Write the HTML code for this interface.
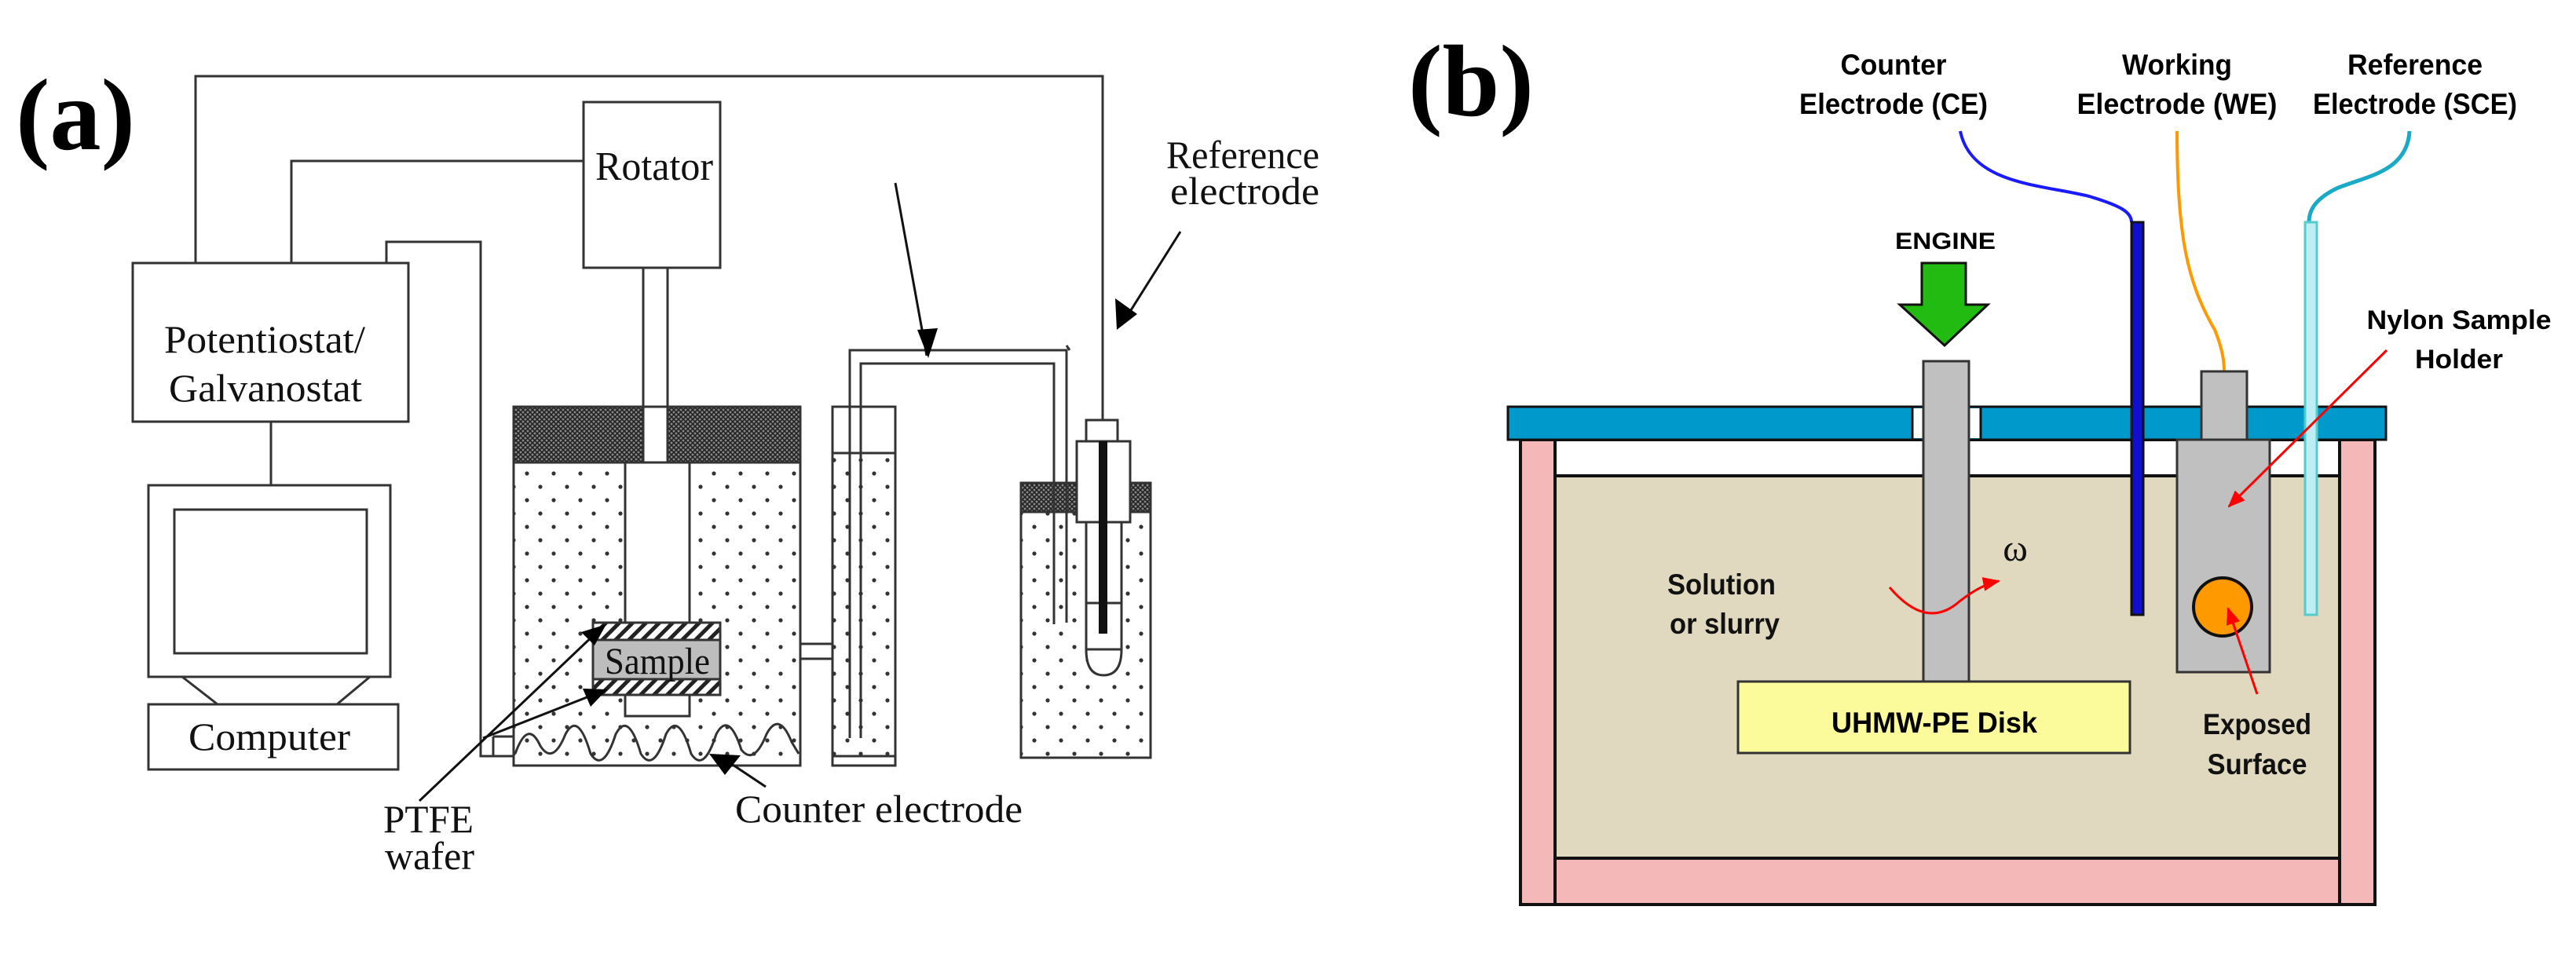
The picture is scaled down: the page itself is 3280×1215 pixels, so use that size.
<!DOCTYPE html>
<html><head><meta charset="utf-8"><style>html,body{margin:0;padding:0;background:#fff}svg{display:block}</style></head>
<body>
<svg width="3280" height="1215" viewBox="0 0 3280 1215" xmlns="http://www.w3.org/2000/svg">
<defs>
<pattern id="dots" width="34" height="34" patternUnits="userSpaceOnUse">
<circle cx="8" cy="8" r="2.6" fill="#333"/><circle cx="25" cy="25" r="2.6" fill="#333"/></pattern>
<pattern id="xh" width="6" height="6" patternUnits="userSpaceOnUse">
<rect width="6" height="6" fill="#888"/><path d="M0 0L6 6M6 0L0 6" stroke="#222" stroke-width="1.6"/></pattern>
<pattern id="diag" width="12" height="12" patternUnits="userSpaceOnUse" patternTransform="rotate(45)">
<rect width="12" height="12" fill="#fff"/><rect width="5" height="12" fill="#222"/></pattern>
<marker id="rh" markerWidth="22" markerHeight="18" refX="20" refY="9" orient="auto" markerUnits="userSpaceOnUse"><path d="M0 0L22 9L0 18z" fill="#f00"/></marker>
</defs>

<!-- ============ PANEL A ============ -->
<g font-family="Liberation Serif, serif" fill="none" stroke="#333" stroke-width="3">
<text x="20" y="190" font-size="130" font-weight="bold" fill="#000" stroke="none" textLength="152" lengthAdjust="spacingAndGlyphs">(a)</text>
<polyline points="249,335 249,97 1404,97 1404,535"/>
<polyline points="371,335 371,205 743,205"/>
<polyline points="492,335 492,308 612,308 612,963 654,963"/>
<polyline points="628,938 654,938"/>
<polyline points="628,938 628,963"/>
<line x1="345" y1="537" x2="345" y2="618"/>
<rect x="169" y="335" width="351" height="202" fill="#fff"/>
<text x="209" y="449" font-size="50" fill="#111" stroke="none" textLength="256" lengthAdjust="spacingAndGlyphs">Potentiostat/</text>
<text x="215" y="511" font-size="50" fill="#111" stroke="none" textLength="246" lengthAdjust="spacingAndGlyphs">Galvanostat</text>
<rect x="743" y="130" width="174" height="211" fill="#fff"/>
<text x="758" y="229" font-size="52" fill="#111" stroke="none" textLength="150" lengthAdjust="spacingAndGlyphs">Rotator</text>
<rect x="189" y="618" width="308" height="244" fill="#fff"/>
<rect x="222" y="649" width="245" height="183" fill="#fff"/>
<polyline points="232,862 277,897"/><polyline points="471,862 429,897"/>
<rect x="189" y="897" width="318" height="83" fill="#fff"/>
<text x="240" y="955" font-size="50" fill="#111" stroke="none" textLength="206" lengthAdjust="spacingAndGlyphs">Computer</text>
<rect x="819" y="341" width="31" height="248" fill="#fff"/>
<rect x="654" y="518" width="365" height="457" fill="url(#dots)"/>
<rect x="654" y="518" width="365" height="71" fill="url(#xh)"/>
<rect x="819" y="518" width="31" height="71" fill="#fff"/>
<line x1="819" y1="518" x2="819" y2="589"/><line x1="850" y1="518" x2="850" y2="589"/>
<line x1="654" y1="589" x2="1019" y2="589"/>
<rect x="796" y="589" width="82" height="204" fill="#fff"/>
<rect x="796" y="885" width="82" height="27" fill="#fff"/>
<rect x="755" y="793" width="162" height="22" fill="url(#diag)"/>
<rect x="755" y="815" width="162" height="50" fill="#bdbdbd"/>
<rect x="755" y="865" width="162" height="20" fill="url(#diag)"/>
<text x="770" y="858" font-size="48" fill="#111" stroke="none" textLength="134" lengthAdjust="spacingAndGlyphs">Sample</text>
<path d="M656,960 Q672,915 688,950 Q704,975 720,935 Q736,905 752,960 Q768,985 784,935 Q800,905 816,960 Q832,985 848,935 Q864,905 880,960 Q896,985 912,935 Q928,905 944,955 Q960,975 976,935 Q992,905 1008,945 L1017,960" stroke-width="3"/>
<rect x="654" y="518" width="365" height="457"/>
<rect x="1019" y="820" width="41" height="19" fill="#fff"/>
<rect x="1060" y="518" width="80" height="457" fill="url(#dots)"/>
<rect x="1060" y="518" width="80" height="59" fill="#fff"/>
<rect x="1060" y="518" width="80" height="457"/>
<line x1="1060" y1="577" x2="1140" y2="577"/>
<line x1="1060" y1="963" x2="1140" y2="963"/>
<polyline points="1082,940 1082,446 1358,446 1358,793"/>
<polyline points="1096,940 1096,463 1342,463 1342,795"/>
<line x1="1358" y1="440" x2="1362" y2="446"/>
<rect x="1300" y="615" width="165" height="350" fill="url(#dots)"/>
<rect x="1300" y="615" width="165" height="37" fill="url(#xh)"/>
<rect x="1300" y="615" width="165" height="350"/>
<line x1="1342" y1="615" x2="1342" y2="795"/>
<line x1="1358" y1="615" x2="1358" y2="793"/>
<rect x="1383" y="535" width="40" height="27" fill="#fff"/>
<rect x="1371" y="562" width="68" height="103" fill="#fff"/>
<path d="M1383,665 L1383,827 Q1383,860 1405,860 Q1428,860 1428,827 L1428,665 Z" fill="#fff"/>
<line x1="1383" y1="768" x2="1428" y2="768"/>
<line x1="1383" y1="827" x2="1428" y2="827"/>
<rect x="1399" y="562" width="11" height="245" fill="#111" stroke="none"/>
<line x1="1140" y1="233" x2="1180" y2="453" stroke="#111" stroke-width="3"/>
<path d="M1168,420 L1194,418 L1182,456 Z" fill="#000" stroke="none"/>
<line x1="1503" y1="295" x2="1440" y2="395" stroke="#111" stroke-width="3"/>
<path d="M1420,380 L1448,400 L1422,420 Z" fill="#000" stroke="none"/>
<line x1="534" y1="1020" x2="760" y2="805" stroke="#111" stroke-width="3"/>
<path d="M772,795 L740,805 L757,822 Z" fill="#000" stroke="none"/>
<line x1="615" y1="940" x2="760" y2="883" stroke="#111" stroke-width="3"/>
<path d="M773,878 L742,877 L752,900 Z" fill="#000" stroke="none"/>
<line x1="975" y1="1002" x2="930" y2="972" stroke="#111" stroke-width="3"/>
<path d="M903,960 L943,962 L923,987 Z" fill="#000" stroke="none"/>
<g fill="#111" stroke="none" font-size="50">
<text x="1485" y="214" textLength="195" lengthAdjust="spacingAndGlyphs">Reference</text>
<text x="1490" y="260" textLength="190" lengthAdjust="spacingAndGlyphs">electrode</text>
<text x="488" y="1060" textLength="115" lengthAdjust="spacingAndGlyphs">PTFE</text>
<text x="490" y="1107" textLength="114" lengthAdjust="spacingAndGlyphs">wafer</text>
<text x="936" y="1047" textLength="366" lengthAdjust="spacingAndGlyphs">Counter electrode</text>
</g>
</g>

<!-- ============ PANEL B ============ -->
<g font-family="Liberation Sans, sans-serif">
<text x="1793" y="147" font-family="Liberation Serif, serif" font-size="130" font-weight="bold" fill="#000" textLength="160" lengthAdjust="spacingAndGlyphs">(b)</text>
<g font-size="37" font-weight="bold" fill="#000" text-anchor="middle">
<text x="2411" y="95" textLength="135" lengthAdjust="spacingAndGlyphs">Counter</text>
<text x="2411" y="145" textLength="240" lengthAdjust="spacingAndGlyphs">Electrode (CE)</text>
<text x="2772" y="95" textLength="140" lengthAdjust="spacingAndGlyphs">Working</text>
<text x="2772" y="145" textLength="255" lengthAdjust="spacingAndGlyphs">Electrode (WE)</text>
<text x="3075" y="95" textLength="172" lengthAdjust="spacingAndGlyphs">Reference</text>
<text x="3075" y="145" textLength="260" lengthAdjust="spacingAndGlyphs">Electrode (SCE)</text>
<text x="2477" y="317" font-size="30" textLength="128" lengthAdjust="spacingAndGlyphs">ENGINE</text>
<text x="3131" y="419" font-size="34" textLength="235" lengthAdjust="spacingAndGlyphs">Nylon Sample</text>
<text x="3131" y="469" font-size="34" textLength="112" lengthAdjust="spacingAndGlyphs">Holder</text>
</g>
<path d="M2496,167 C2510,235 2600,235 2660,250 C2700,262 2714,270 2714,283" fill="none" stroke="#1a1aff" stroke-width="4"/>
<path d="M2772,167 C2772,300 2785,360 2820,420 C2830,445 2832,460 2832,473" fill="none" stroke="#ff9900" stroke-width="4"/>
<path d="M3068,167 C3065,220 3010,225 2975,240 C2945,255 2940,270 2940,283" fill="none" stroke="#1aaac8" stroke-width="5"/>
<rect x="1936" y="560" width="1088" height="592" fill="#f4b8b8" stroke="#111" stroke-width="4"/>
<rect x="1980" y="606" width="999" height="487" fill="#e0d9c0" stroke="#111" stroke-width="4"/>
<rect x="1980" y="562" width="999" height="42" fill="#fff"/>
<line x1="1980" y1="560" x2="1980" y2="1152" stroke="#111" stroke-width="4"/>
<line x1="2979" y1="560" x2="2979" y2="1152" stroke="#111" stroke-width="4"/>
<rect x="1920" y="518" width="1118" height="42" fill="#0099cc" stroke="#111" stroke-width="3"/>
<rect x="2435" y="520" width="87" height="38" fill="#fff"/>
<line x1="2435" y1="518" x2="2435" y2="560" stroke="#111" stroke-width="3"/>
<line x1="2522" y1="518" x2="2522" y2="560" stroke="#111" stroke-width="3"/>
<rect x="2449" y="460" width="58" height="408" fill="#c0c0c0" stroke="#333" stroke-width="3"/>
<rect x="2213" y="868" width="499" height="91" fill="#fbfb9c" stroke="#333" stroke-width="3"/>
<text x="2463" y="933" font-size="37" font-weight="bold" text-anchor="middle" textLength="262" lengthAdjust="spacingAndGlyphs">UHMW-PE Disk</text>
<path d="M2447,335 L2503,335 L2503,388 L2531,388 L2476,440 L2419,388 L2447,388 Z" fill="#22bb11" stroke="#111" stroke-width="3"/>
<rect x="2714" y="283" width="15" height="500" fill="#1010cc" stroke="#111" stroke-width="3"/>
<rect x="2803" y="473" width="58" height="87" fill="#c0c0c0" stroke="#333" stroke-width="3"/>
<rect x="2772" y="560" width="118" height="296" fill="#c0c0c0" stroke="#333" stroke-width="3"/>
<circle cx="2830" cy="773" r="37" fill="#ff9900" stroke="#111" stroke-width="4"/>
<rect x="2935" y="283" width="15" height="500" fill="#bdeef5" stroke="#5cc" stroke-width="3"/>
<g font-size="37" font-weight="bold" fill="#111" text-anchor="middle">
<text x="2192" y="757" textLength="138" lengthAdjust="spacingAndGlyphs">Solution</text>
<text x="2196" y="807" textLength="140" lengthAdjust="spacingAndGlyphs">or slurry</text>
<text x="2874" y="935" textLength="138" lengthAdjust="spacingAndGlyphs">Exposed</text>
<text x="2874" y="986" textLength="127" lengthAdjust="spacingAndGlyphs">Surface</text>
</g>
<text x="2566" y="714" font-family="Liberation Serif, serif" font-size="48" text-anchor="middle" fill="#111">ω</text>
<path d="M2406,748 Q2450,800 2490,770 Q2520,745 2545,740" fill="none" stroke="#f00" stroke-width="3" marker-end="url(#rh)"/>
<line x1="3039" y1="446" x2="2838" y2="645" stroke="#f00" stroke-width="3" marker-end="url(#rh)"/>
<line x1="2874" y1="884" x2="2837" y2="775" stroke="#f00" stroke-width="3" marker-end="url(#rh)"/>
</g>
</svg>
</body></html>
